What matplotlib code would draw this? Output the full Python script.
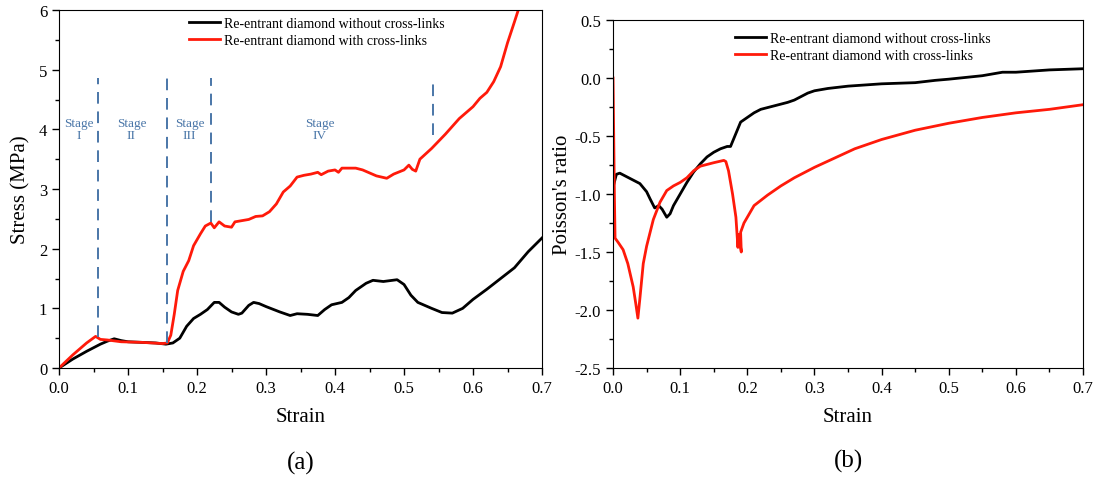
import numpy as np
import matplotlib.pyplot as plt
from matplotlib.ticker import MultipleLocator

plt.rcParams['font.family'] = ['Liberation Serif', 'DejaVu Serif']
plt.rcParams['axes.unicode_minus'] = False

# --- (a) stress-strain ---
strain_a_black = [0.0, 0.02, 0.04, 0.06, 0.07, 0.08, 0.09, 0.10, 0.12, 0.14, 0.155, 0.165,
                  0.175, 0.185, 0.195, 0.205, 0.215, 0.225, 0.232, 0.24, 0.25, 0.26, 0.265,
                  0.275, 0.282, 0.29, 0.30, 0.32, 0.335, 0.345, 0.36, 0.375, 0.385, 0.395,
                  0.41, 0.42, 0.43, 0.445, 0.455, 0.47, 0.49, 0.50, 0.51, 0.52, 0.54, 0.555,
                  0.57, 0.585, 0.60, 0.62, 0.64, 0.66, 0.68, 0.70]
stress_black = [0.0, 0.15, 0.28, 0.40, 0.45, 0.49, 0.46, 0.44, 0.43, 0.42, 0.40, 0.42,
                0.50, 0.70, 0.83, 0.90, 0.98, 1.10, 1.10, 1.02, 0.94, 0.90, 0.92,
                1.05, 1.10, 1.08, 1.03, 0.94, 0.88, 0.91, 0.90, 0.88, 0.98, 1.06,
                1.10, 1.18, 1.30, 1.42, 1.47, 1.45, 1.48, 1.40, 1.22, 1.10, 1.00, 0.93,
                0.92, 1.00, 1.15, 1.32, 1.50, 1.68, 1.95, 2.18]

strain_a_red = [0.0, 0.02, 0.04, 0.053, 0.06, 0.07, 0.09, 0.12, 0.15, 0.157, 0.162, 0.167,
                0.172, 0.18, 0.188, 0.195, 0.205, 0.212, 0.22, 0.225, 0.232, 0.24, 0.25,
                0.255, 0.265, 0.275, 0.285, 0.295, 0.305, 0.315, 0.325, 0.335, 0.345,
                0.355, 0.365, 0.375, 0.38, 0.39, 0.40, 0.405, 0.41, 0.43, 0.44, 0.45,
                0.46, 0.475, 0.485, 0.50, 0.507, 0.512, 0.517, 0.523, 0.54, 0.55, 0.56,
                0.57, 0.58, 0.60, 0.61, 0.62, 0.63, 0.64, 0.65, 0.66, 0.667]
stress_red = [0.0, 0.22, 0.42, 0.53, 0.48, 0.47, 0.44, 0.43, 0.41, 0.42, 0.55, 0.90,
              1.30, 1.62, 1.80, 2.05, 2.25, 2.38, 2.43, 2.35, 2.45, 2.38, 2.36,
              2.45, 2.47, 2.49, 2.54, 2.55, 2.62, 2.75, 2.95, 3.05, 3.20,
              3.23, 3.25, 3.28, 3.24, 3.30, 3.32, 3.28, 3.35, 3.35, 3.32, 3.27,
              3.22, 3.18, 3.25, 3.32, 3.40, 3.33, 3.30, 3.50, 3.68, 3.80, 3.92,
              4.05, 4.18, 4.38, 4.52, 4.62, 4.80, 5.05, 5.45, 5.80, 6.05]

stage_x = [0.057, 0.157, 0.220, 0.542]
stage_bottom = [0.52, 0.42, 2.45, 3.9]
stage_top = 4.86
stage_labels = ['Stage\nI', 'Stage\nII', 'Stage\nIII', 'Stage\nIV']
stage_label_x = [0.0285, 0.105, 0.189, 0.378]

# --- (b) Poisson's ratio ---
strain_b_black = [0.001, 0.005, 0.01, 0.02, 0.03, 0.04, 0.05, 0.055, 0.062, 0.068, 0.073,
                  0.08, 0.085, 0.09, 0.10, 0.11, 0.12, 0.13, 0.14, 0.15, 0.16, 0.17,
                  0.175, 0.18, 0.19, 0.20, 0.21, 0.22, 0.24, 0.26, 0.27, 0.28, 0.29,
                  0.30, 0.32, 0.35, 0.40, 0.45, 0.48, 0.50, 0.55, 0.58, 0.60, 0.65, 0.70]
poisson_black = [-0.92, -0.83, -0.82, -0.85, -0.88, -0.91, -0.98, -1.04, -1.12, -1.10, -1.13,
                 -1.20, -1.17, -1.10, -1.00, -0.90, -0.81, -0.74, -0.68, -0.64, -0.61, -0.59,
                 -0.59, -0.52, -0.38, -0.34, -0.30, -0.27, -0.24, -0.21, -0.19, -0.16, -0.13,
                 -0.11, -0.09, -0.07, -0.05, -0.04, -0.02, -0.01, 0.02, 0.05, 0.05, 0.07, 0.08]

strain_b_red = [0.0, 0.002, 0.003, 0.008, 0.015, 0.022, 0.030, 0.034, 0.037, 0.040, 0.045,
                0.050, 0.060, 0.070, 0.080, 0.090, 0.10, 0.11, 0.12, 0.13, 0.15, 0.165,
                0.168, 0.172, 0.178, 0.183, 0.186, 0.187, 0.189, 0.191, 0.190, 0.195,
                0.20, 0.21, 0.23, 0.25, 0.27, 0.30, 0.33, 0.36, 0.40, 0.45, 0.50, 0.55,
                0.60, 0.65, 0.70]
poisson_red = [0.0, -1.0, -1.38, -1.42, -1.48, -1.60, -1.80, -1.95, -2.07, -1.90, -1.60,
               -1.45, -1.22, -1.07, -0.97, -0.93, -0.90, -0.86, -0.80, -0.76, -0.73, -0.71,
               -0.72, -0.80, -1.00, -1.20, -1.46, -1.35, -1.42, -1.50, -1.33, -1.25,
               -1.20, -1.10, -1.01, -0.93, -0.86, -0.77, -0.69, -0.61, -0.53, -0.45, -0.39, -0.34,
               -0.30, -0.27, -0.23]

label_black = 'Re-entrant diamond without cross-links'
label_red = 'Re-entrant diamond with cross-links'
stage_color = '#4a76a8'

fig = plt.figure(figsize=(11.01, 4.81), dpi=100)
ax1 = fig.add_axes([0.0536, 0.2328, 0.4387, 0.7443])
ax2 = fig.add_axes([0.5568, 0.2328, 0.4269, 0.7235])

ax1.plot(strain_a_black, stress_black, color='black', lw=2, label=label_black)
ax1.plot(strain_a_red, stress_red, color='#ff1a0a', lw=2, label=label_red)
for x, yb in zip(stage_x, stage_bottom):
    ax1.plot([x, x], [yb, stage_top], ls=(0, (6, 4)), color=stage_color, lw=1.4)
for x, t in zip(stage_label_x, stage_labels):
    ax1.text(x, 4.0, t, color=stage_color, fontsize=9.5, ha='center', va='center',
             linespacing=1.0)
ax1.set_xlim(0, 0.7)
ax1.set_ylim(0, 6)
ax1.yaxis.set_major_locator(MultipleLocator(1))
ax1.yaxis.set_minor_locator(MultipleLocator(0.5))
ax1.set_ylabel('Stress (MPa)', fontsize=15, labelpad=6)

ax2.plot(strain_b_black, poisson_black, color='black', lw=2, label=label_black)
ax2.plot(strain_b_red, poisson_red, color='#ff1a0a', lw=2, label=label_red)
ax2.set_xlim(0, 0.7)
ax2.set_ylim(-2.5, 0.5)
ax2.yaxis.set_major_locator(MultipleLocator(0.5))
ax2.yaxis.set_minor_locator(MultipleLocator(0.25))
ax2.set_ylabel("Poisson's ratio", fontsize=15, labelpad=2)

legend_anchor = {ax1: (0.255, 1.0), ax2: (0.245, 0.985)}
for ax, tag in [(ax1, '(a)'), (ax2, '(b)')]:
    ax.xaxis.set_major_locator(MultipleLocator(0.1))
    ax.xaxis.set_minor_locator(MultipleLocator(0.05))
    ax.xaxis.set_major_formatter(plt.FormatStrFormatter('%.1f'))
    ax.tick_params(which='major', direction='out', length=5, width=1, labelsize=12)
    ax.tick_params(which='minor', direction='out', length=3, width=1)
    ax.set_xlabel('Strain', fontsize=15, labelpad=8)
    ax.legend(loc='upper left', bbox_to_anchor=legend_anchor[ax], frameon=False, fontsize=10,
              handlelength=2.2, handletextpad=0.3, labelspacing=0.3, borderaxespad=0.3,
              borderpad=0.2)
    ax.text(0.5, -0.265, tag, transform=ax.transAxes, fontsize=18, ha='center', va='center')

fig.savefig('out.png', dpi=100)
